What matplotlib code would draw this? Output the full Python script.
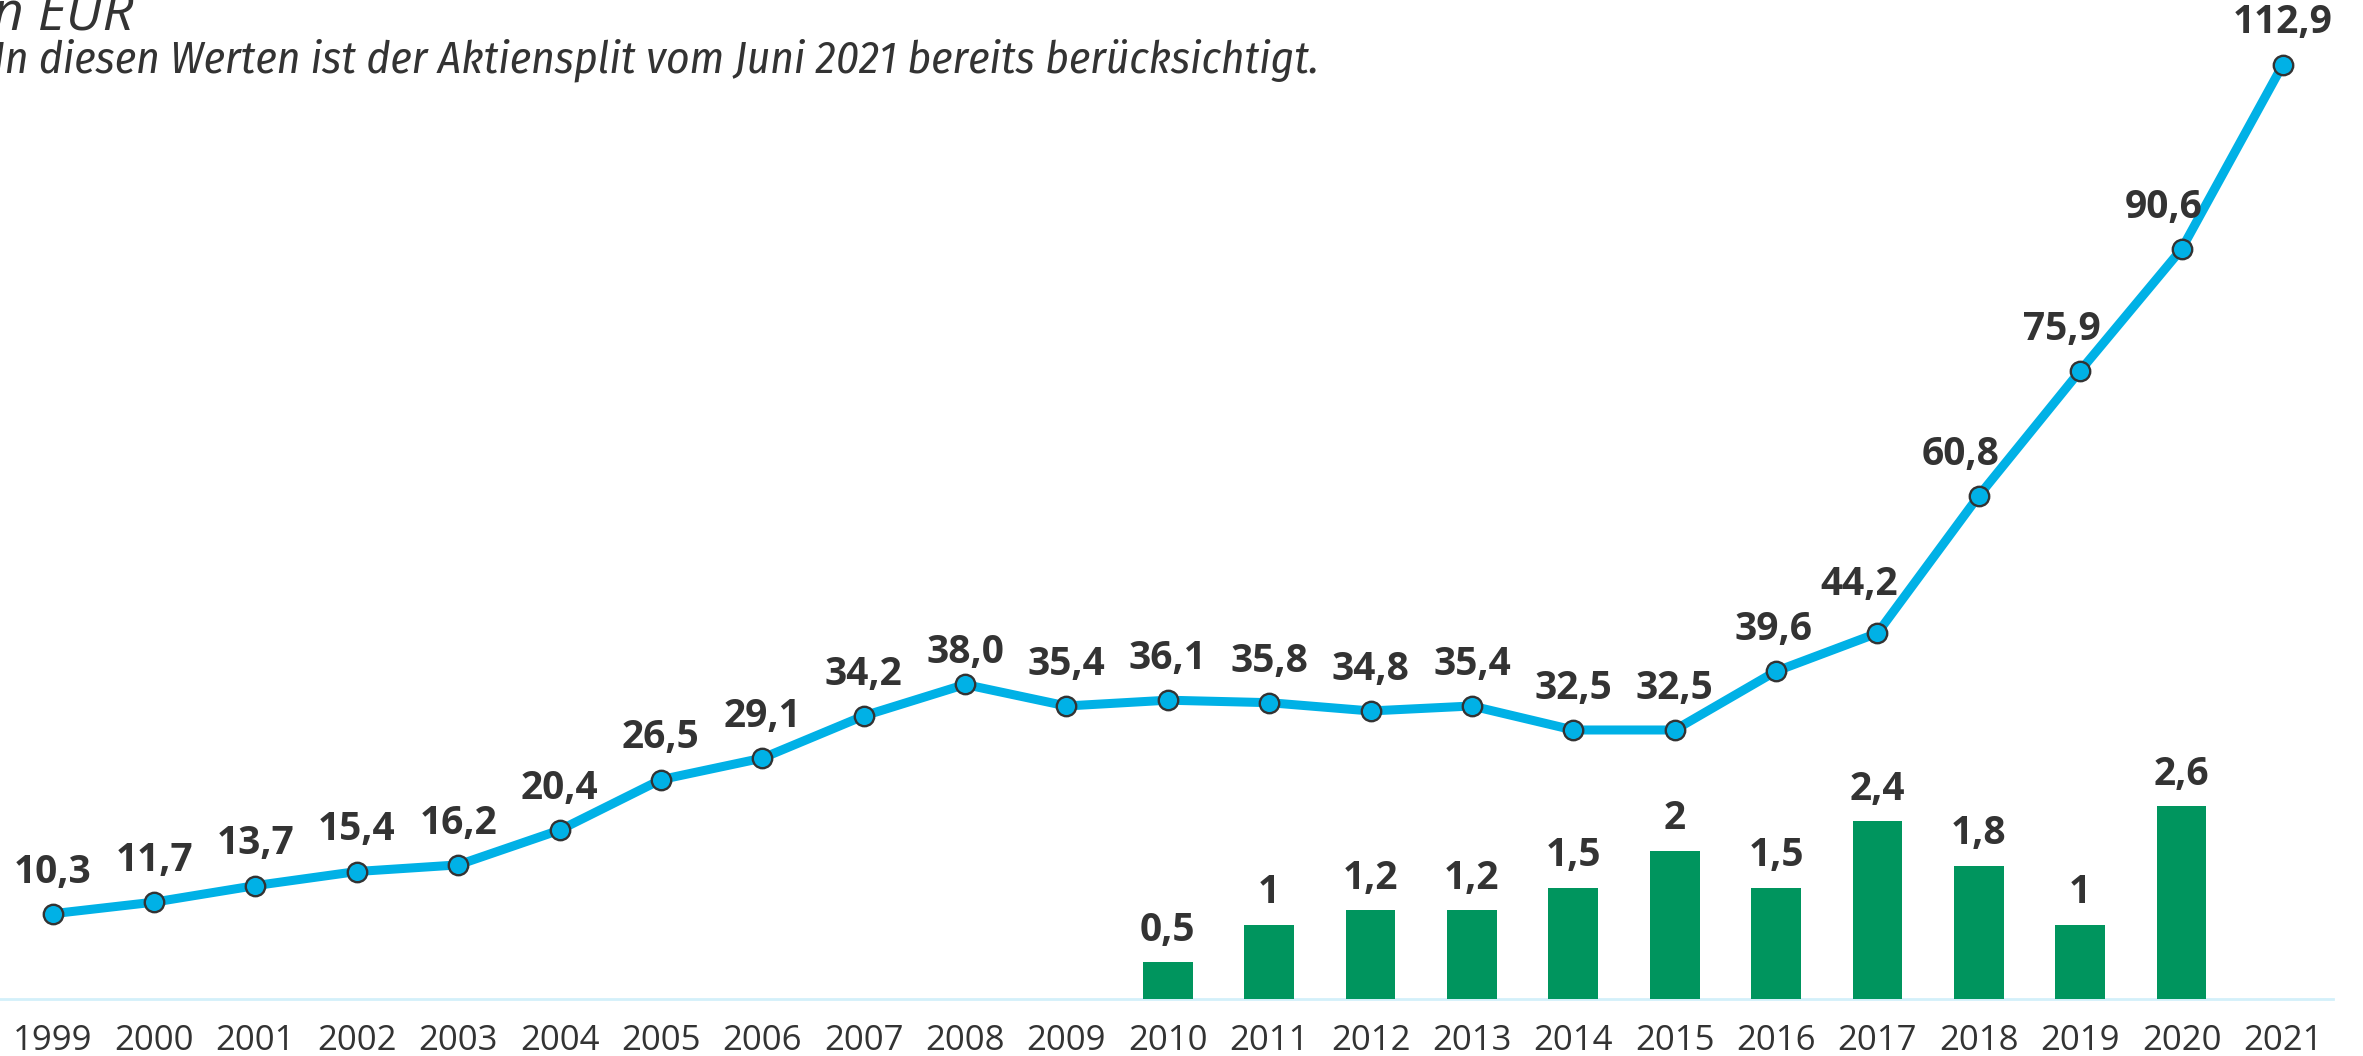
import matplotlib
matplotlib.use("Agg")
import matplotlib.pyplot as plt

# data
years = [str(y) for y in range(1999, 2022)]
price = [10.3, 11.7, 13.7, 15.4, 16.2, 20.4, 26.5, 29.1, 34.2, 38.0, 35.4, 36.1,
         35.8, 34.8, 35.4, 32.5, 32.5, 39.6, 44.2, 60.8, 75.9, 90.6, 112.9]
div_years = [str(y) for y in range(2010, 2021)]
dividend = [0.5, 1, 1.2, 1.2, 1.5, 2, 1.5, 2.4, 1.8, 1, 2.6]

title_unit = "in EUR"
title_note = "In diesen Werten ist der Aktiensplit vom Juni 2021 bereits berücksichtigt."

LINE_COLOR = "#00B1E6"
BAR_COLOR = "#00955E"
TEXT_COLOR = "#333333"
BASE_COLOR = "#D3F0FA"

FONT = ["Open Sans", "DejaVu Sans"]
FONT_COND = ["Fira Sans Condensed", "Open Sans", "DejaVu Sans"]
plt.rcParams["font.family"] = FONT

# label nudges (points) where the reference moves a label off the default spot
label_dx = {"2016": -2, "2017": -13, "2018": -13, "2019": -13, "2020": -13}
label_dy = {"2008": 23, "2017": 35}


def de_fmt(v, fixed=True):
    s = f"{v:.1f}" if fixed else f"{v:g}"
    return s.replace(".", ",")


def main():
    fig = plt.figure(figsize=(23.63, 10.56), dpi=100)
    ax = fig.add_axes([0.0, 0.054, 1.0, 0.946])
    ax2 = ax.twinx()

    x = list(range(len(years)))
    xpos = {y: i for i, y in enumerate(years)}
    bx = [xpos[y] for y in div_years]

    ax.plot(x, price, color=LINE_COLOR, linewidth=6.5, marker="o", markersize=14,
            markerfacecolor=LINE_COLOR, markeredgecolor=TEXT_COLOR,
            markeredgewidth=1.7, zorder=3, solid_joinstyle="round")
    for i, v in enumerate(price):
        off = (label_dx.get(years[i], 0), label_dy.get(years[i], 30))
        ax.annotate(de_fmt(v), (i, v), xytext=off,
                    textcoords="offset points", ha="center", va="center",
                    fontsize=28, fontweight="bold", color=TEXT_COLOR)

    ax2.bar(bx, dividend, width=0.49, color=BAR_COLOR, zorder=2)
    for xi, v in zip(bx, dividend):
        ax2.annotate(de_fmt(v, fixed=False), (xi, v), xytext=(0, 23),
                     textcoords="offset points", ha="center", va="center",
                     fontsize=28, fontweight="bold", color=TEXT_COLOR)

    ax.set_xlim(-0.52, 22.79)
    ax.set_ylim(0, 120.7)
    ax2.set_ylim(0, 13.49)

    ax.set_xticks(x)
    ax.set_xticklabels(years, fontsize=25, color=TEXT_COLOR)
    ax.tick_params(axis="x", length=0, pad=18)
    ax.set_yticks([])
    ax2.set_yticks([])
    for a in (ax, ax2):
        for side in ("top", "left", "right", "bottom"):
            a.spines[side].set_visible(False)
    ax.spines["bottom"].set_visible(True)
    ax.spines["bottom"].set_color(BASE_COLOR)
    ax.spines["bottom"].set_linewidth(2)
    ax.spines["bottom"].set_bounds(-0.52, 22.49)

    fig.text(-0.009, 0.9725, title_unit, fontsize=39, style="italic",
             color=TEXT_COLOR, ha="left", va="baseline")
    fig.text(-0.003, 0.931, title_note, fontsize=32.5, style="italic",
             family=FONT_COND, color=TEXT_COLOR, ha="left", va="baseline")

    fig.savefig("out.png", dpi=100)
    plt.close(fig)


if __name__ == "__main__":
    main()
